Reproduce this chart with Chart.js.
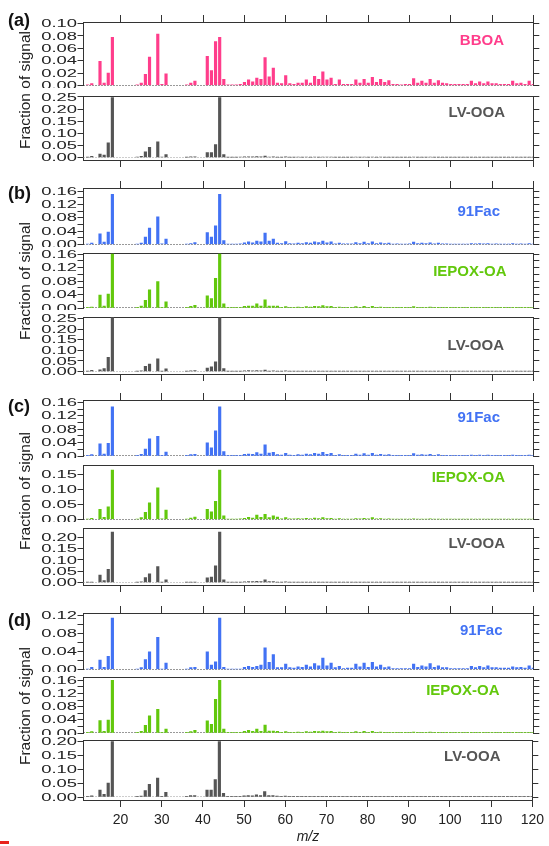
<!DOCTYPE html>
<html>
<head>
<meta charset="utf-8">
<script src="https://cdn.jsdelivr.net/npm/chart.js@4"></script>
<style>
  body { margin: 0; background: #fff; width: 549px; height: 846px; position: relative; overflow: hidden;
         font-family: "Liberation Sans", Arial, Helvetica, sans-serif; }
  canvas { position: absolute; left: 0; }
  .tag { position: absolute; left: 8px; font-weight: bold; font-size: 18px; line-height: 18px; color: #111; transform: translateY(-50%); }
  .ylab { position: absolute; left: 25px; font-size: 15.5px; line-height: 16px; color: #222; white-space: nowrap;
          transform: translate(-50%, -50%) rotate(-90deg); }
  .mark { position: absolute; left: 0; top: 841px; width: 9px; height: 3px; background: #e8231c; }
</style>
</head>
<body>
<script>
// ===== Spectra (fraction of signal per m/z) =====
const mz = [12, 13, 15, 16, 17, 18, 24, 25, 26, 27, 29, 30, 31, 36, 37, 38, 41, 42, 43, 44, 45, 46, 47,
    48, 49, 50, 51, 52, 53, 54, 55, 56, 57,
    58, 59, 60, 61, 62, 63, 64, 65, 66, 67,
    68, 69, 70, 71, 72, 73, 74, 75, 76, 77,
    78, 79, 80, 81, 82, 83, 84, 85, 86, 87,
    88, 89, 90, 91, 92, 93, 94, 95, 96, 97,
    98, 99, 100, 101, 102, 103, 104, 105, 106, 107,
    108, 109, 110, 111, 112, 113, 114, 115, 116, 117,
    118, 119, 120];

const mzTicks = [20, 30, 40, 50, 60, 70, 80, 90, 100, 110, 120];
const groupTags = ['(a)', '(b)', '(c)', '(d)'];

const bboaA = [0.001, 0.003, 0.039, 0.004, 0.020, 0.078, 0.001, 0.004, 0.018, 0.046, 0.083, 0.002, 0.019, 0.001, 0.004, 0.007, 0.047, 0.024, 0.071, 0.078, 0.010, 0.001, 0.001,
    0.001, 0.002, 0.005, 0.009, 0.006, 0.012, 0.010, 0.045, 0.014, 0.028,
    0.004, 0.003, 0.016, 0.003, 0.002, 0.004, 0.004, 0.009, 0.004, 0.015,
    0.010, 0.022, 0.009, 0.012, 0.002, 0.009, 0.002, 0.002, 0.002, 0.009,
    0.004, 0.010, 0.004, 0.013, 0.005, 0.010, 0.005, 0.008, 0.002, 0.002,
    0.001, 0.002, 0.002, 0.011, 0.004, 0.007, 0.004, 0.010, 0.004, 0.008,
    0.004, 0.003, 0.002, 0.002, 0.002, 0.002, 0.002, 0.007, 0.003, 0.006,
    0.003, 0.006, 0.003, 0.003, 0.002, 0.002, 0.002, 0.007, 0.003, 0.004,
    0.002, 0.007, 0.002];

const lvooaA = [0.001, 0.005, 0.014, 0.010, 0.061, 0.247, 0.002, 0.005, 0.023, 0.042, 0.065, 0.002, 0.012, 0.001, 0.003, 0.003, 0.020, 0.020, 0.053, 0.247, 0.012, 0.001, 0.001,
    0.001, 0.002, 0.003, 0.003, 0.003, 0.004, 0.003, 0.006, 0.002, 0.003,
    0.001, 0.001, 0.003, 0.001, 0.001, 0.002, 0.001, 0.002, 0.001, 0.002,
    0.001, 0.002, 0.002, 0.002, 0.001, 0.001, 0.001, 0.001, 0.001, 0.002,
    0.001, 0.002, 0.001, 0.002, 0.001, 0.002, 0.001, 0.001, 0.001, 0.001,
    0.001, 0.001, 0.001, 0.002, 0.001, 0.001, 0.001, 0.002, 0.001, 0.001,
    0.001, 0.001, 0.001, 0.001, 0.001, 0.001, 0.001, 0.001, 0.001, 0.001,
    0.001, 0.001, 0.001, 0.001, 0.001, 0.001, 0.001, 0.001, 0.001, 0.001,
    0.001, 0.001, 0.001];

const fac91B = [0.001, 0.004, 0.032, 0.007, 0.037, 0.150, 0.001, 0.004, 0.022, 0.049, 0.083, 0.002, 0.016, 0.001, 0.003, 0.006, 0.036, 0.022, 0.056, 0.150, 0.012, 0.001, 0.001,
    0.001, 0.002, 0.005, 0.008, 0.005, 0.010, 0.008, 0.034, 0.010, 0.016,
    0.004, 0.003, 0.009, 0.003, 0.002, 0.004, 0.003, 0.006, 0.004, 0.008,
    0.006, 0.010, 0.005, 0.008, 0.002, 0.004, 0.002, 0.002, 0.002, 0.006,
    0.003, 0.007, 0.003, 0.008, 0.003, 0.005, 0.003, 0.004, 0.001, 0.002,
    0.001, 0.001, 0.002, 0.007, 0.003, 0.004, 0.003, 0.005, 0.002, 0.004,
    0.002, 0.002, 0.001, 0.001, 0.001, 0.001, 0.001, 0.003, 0.002, 0.003,
    0.002, 0.003, 0.001, 0.002, 0.001, 0.001, 0.001, 0.003, 0.001, 0.002,
    0.001, 0.003, 0.001];

const iepoxB = [0.002, 0.003, 0.038, 0.006, 0.041, 0.160, 0.001, 0.006, 0.023, 0.054, 0.078, 0.002, 0.018, 0.001, 0.005, 0.008, 0.036, 0.028, 0.088, 0.160, 0.012, 0.001, 0.001,
    0.001, 0.002, 0.005, 0.006, 0.006, 0.012, 0.006, 0.024, 0.006, 0.006,
    0.006, 0.002, 0.004, 0.002, 0.002, 0.003, 0.002, 0.004, 0.003, 0.005,
    0.004, 0.007, 0.004, 0.005, 0.001, 0.003, 0.001, 0.001, 0.001, 0.004,
    0.002, 0.005, 0.002, 0.005, 0.002, 0.003, 0.002, 0.002, 0.001, 0.001,
    0.001, 0.001, 0.001, 0.004, 0.002, 0.002, 0.002, 0.003, 0.001, 0.002,
    0.001, 0.001, 0.001, 0.001, 0.001, 0.001, 0.001, 0.002, 0.001, 0.002,
    0.001, 0.002, 0.001, 0.001, 0.001, 0.001, 0.001, 0.002, 0.001, 0.001,
    0.001, 0.002, 0.001];

const lvooaB = [0.001, 0.005, 0.008, 0.014, 0.067, 0.255, 0.001, 0.003, 0.025, 0.035, 0.060, 0.002, 0.013, 0.001, 0.003, 0.004, 0.016, 0.022, 0.046, 0.255, 0.014, 0.001, 0.001,
    0.001, 0.002, 0.003, 0.004, 0.003, 0.004, 0.003, 0.007, 0.002, 0.003,
    0.001, 0.001, 0.003, 0.001, 0.001, 0.002, 0.001, 0.002, 0.001, 0.002,
    0.001, 0.002, 0.002, 0.002, 0.001, 0.001, 0.001, 0.001, 0.001, 0.002,
    0.001, 0.002, 0.001, 0.002, 0.001, 0.002, 0.001, 0.001, 0.001, 0.001,
    0.001, 0.001, 0.001, 0.002, 0.001, 0.001, 0.001, 0.002, 0.001, 0.001,
    0.001, 0.001, 0.001, 0.001, 0.001, 0.001, 0.001, 0.001, 0.001, 0.001,
    0.001, 0.001, 0.001, 0.001, 0.001, 0.001, 0.001, 0.001, 0.001, 0.001,
    0.001, 0.001, 0.001];

const fac91C = [0.001, 0.004, 0.036, 0.006, 0.038, 0.147, 0.001, 0.005, 0.021, 0.051, 0.059, 0.002, 0.012, 0.001, 0.004, 0.005, 0.039, 0.024, 0.075, 0.147, 0.013, 0.001, 0.001,
    0.001, 0.002, 0.005, 0.006, 0.005, 0.010, 0.006, 0.033, 0.009, 0.011,
    0.004, 0.003, 0.008, 0.003, 0.002, 0.004, 0.003, 0.006, 0.004, 0.008,
    0.006, 0.011, 0.005, 0.008, 0.002, 0.004, 0.002, 0.002, 0.002, 0.006,
    0.003, 0.007, 0.003, 0.008, 0.003, 0.005, 0.003, 0.004, 0.001, 0.002,
    0.001, 0.001, 0.002, 0.007, 0.003, 0.004, 0.003, 0.005, 0.002, 0.004,
    0.002, 0.002, 0.001, 0.001, 0.001, 0.001, 0.001, 0.003, 0.002, 0.003,
    0.002, 0.003, 0.001, 0.002, 0.001, 0.001, 0.001, 0.003, 0.001, 0.002,
    0.001, 0.003, 0.001];

const iepoxC = [0.001, 0.004, 0.034, 0.007, 0.042, 0.163, 0.001, 0.006, 0.024, 0.055, 0.105, 0.002, 0.031, 0.001, 0.005, 0.008, 0.034, 0.025, 0.060, 0.163, 0.012, 0.001, 0.001,
    0.001, 0.002, 0.004, 0.007, 0.005, 0.015, 0.007, 0.017, 0.006, 0.012,
    0.008, 0.002, 0.006, 0.002, 0.002, 0.003, 0.002, 0.004, 0.002, 0.005,
    0.003, 0.006, 0.003, 0.004, 0.001, 0.003, 0.001, 0.001, 0.001, 0.003,
    0.002, 0.004, 0.002, 0.006, 0.002, 0.003, 0.001, 0.002, 0.001, 0.001,
    0.001, 0.001, 0.001, 0.002, 0.001, 0.001, 0.001, 0.002, 0.001, 0.001,
    0.001, 0.001, 0.001, 0.001, 0.001, 0.001, 0.001, 0.001, 0.001, 0.001,
    0.001, 0.001, 0.001, 0.001, 0.001, 0.001, 0.001, 0.001, 0.001, 0.001,
    0.001, 0.001, 0.001];

const lvooaC = [0.001, 0.002, 0.033, 0.009, 0.058, 0.224, 0.001, 0.003, 0.022, 0.039, 0.071, 0.002, 0.012, 0.001, 0.002, 0.002, 0.021, 0.024, 0.074, 0.224, 0.012, 0.001, 0.001,
    0.001, 0.001, 0.003, 0.004, 0.004, 0.005, 0.004, 0.012, 0.004, 0.004,
    0.001, 0.001, 0.003, 0.001, 0.001, 0.002, 0.001, 0.002, 0.001, 0.002,
    0.001, 0.002, 0.002, 0.002, 0.001, 0.001, 0.001, 0.001, 0.001, 0.002,
    0.001, 0.002, 0.001, 0.002, 0.001, 0.002, 0.001, 0.001, 0.001, 0.001,
    0.001, 0.001, 0.001, 0.002, 0.001, 0.001, 0.001, 0.002, 0.001, 0.001,
    0.001, 0.001, 0.001, 0.001, 0.001, 0.001, 0.001, 0.001, 0.001, 0.001,
    0.001, 0.001, 0.001, 0.001, 0.001, 0.001, 0.001, 0.001, 0.001, 0.001,
    0.001, 0.001, 0.001];

const fac91D = [0.001, 0.005, 0.021, 0.005, 0.029, 0.114, 0.001, 0.004, 0.022, 0.039, 0.071, 0.001, 0.014, 0.001, 0.004, 0.005, 0.039, 0.010, 0.017, 0.114, 0.005, 0.001, 0.001,
    0.001, 0.001, 0.005, 0.007, 0.005, 0.007, 0.010, 0.048, 0.016, 0.033,
    0.004, 0.004, 0.012, 0.004, 0.003, 0.006, 0.005, 0.010, 0.006, 0.013,
    0.008, 0.025, 0.008, 0.014, 0.004, 0.007, 0.002, 0.003, 0.003, 0.012,
    0.006, 0.014, 0.005, 0.016, 0.006, 0.010, 0.004, 0.006, 0.002, 0.002,
    0.002, 0.002, 0.002, 0.012, 0.005, 0.008, 0.006, 0.013, 0.005, 0.008,
    0.004, 0.004, 0.002, 0.002, 0.002, 0.002, 0.002, 0.007, 0.004, 0.007,
    0.004, 0.008, 0.004, 0.004, 0.003, 0.003, 0.003, 0.006, 0.004, 0.005,
    0.003, 0.008, 0.003];

const iepoxD = [0.001, 0.004, 0.038, 0.005, 0.039, 0.160, 0.001, 0.005, 0.023, 0.052, 0.072, 0.002, 0.012, 0.001, 0.004, 0.008, 0.037, 0.026, 0.102, 0.160, 0.012, 0.001, 0.001,
    0.001, 0.002, 0.005, 0.008, 0.005, 0.012, 0.005, 0.024, 0.006, 0.006,
    0.005, 0.002, 0.004, 0.002, 0.002, 0.003, 0.002, 0.004, 0.003, 0.005,
    0.004, 0.006, 0.004, 0.005, 0.001, 0.003, 0.001, 0.001, 0.001, 0.004,
    0.002, 0.005, 0.002, 0.005, 0.002, 0.003, 0.002, 0.002, 0.001, 0.001,
    0.001, 0.001, 0.001, 0.003, 0.002, 0.002, 0.002, 0.003, 0.001, 0.002,
    0.001, 0.001, 0.001, 0.001, 0.001, 0.001, 0.001, 0.002, 0.001, 0.002,
    0.001, 0.002, 0.001, 0.001, 0.001, 0.001, 0.001, 0.002, 0.001, 0.001,
    0.001, 0.002, 0.001];

const lvooaD = [0.001, 0.004, 0.025, 0.010, 0.050, 0.200, 0.001, 0.003, 0.023, 0.046, 0.068, 0.001, 0.017, 0.001, 0.005, 0.005, 0.025, 0.025, 0.063, 0.200, 0.013, 0.001, 0.001,
    0.001, 0.001, 0.004, 0.005, 0.004, 0.008, 0.005, 0.020, 0.005, 0.005,
    0.003, 0.001, 0.003, 0.001, 0.001, 0.002, 0.001, 0.002, 0.001, 0.002,
    0.001, 0.002, 0.002, 0.002, 0.001, 0.001, 0.001, 0.001, 0.001, 0.002,
    0.001, 0.002, 0.001, 0.002, 0.001, 0.002, 0.001, 0.001, 0.001, 0.001,
    0.001, 0.001, 0.001, 0.002, 0.001, 0.001, 0.001, 0.002, 0.001, 0.001,
    0.001, 0.001, 0.001, 0.001, 0.001, 0.001, 0.001, 0.001, 0.001, 0.001,
    0.001, 0.001, 0.001, 0.001, 0.001, 0.001, 0.001, 0.001, 0.001, 0.001,
    0.001, 0.001, 0.001];

// ===== Colours / fonts =====
const PINK = '#ff3d8b';
const BLUE = '#4272f4';
const GREEN = '#62c80c';
const GREY = '#555555';
const AXIS = '#333333';
const FONT = '"Liberation Sans", Arial, Helvetica, sans-serif';
const W = 549;
const PLOT_LEFT = 83.5;
const PLOT_RIGHT = 533.3;

Chart.defaults.font.family = FONT;

// ===== Panel layout (page pixels) =====
// top = frame line, base = zero line, axis = bottom axis line (last panel of a group)
const panels = [
    { group: 0, name: 'BBOA', values: bboaA, color: PINK, top: 22, base: 85.5, max: 0.1026, step: 0.02, labelStep: 0.02, first: true, nameX: 504, nameY: 40.5 },
    { group: 0, name: 'LV-OOA', values: lvooaA, color: GREY, top: 96, base: 157.5, axis: 160, xh: 10, max: 0.254, step: 0.05, labelStep: 0.05, nameX: 505, nameY: 113 },

    { group: 1, name: '91Fac', values: fac91B, color: BLUE, top: 188, base: 244.5, max: 0.169, step: 0.02, labelStep: 0.04, first: true, nameX: 500, nameY: 212 },
    { group: 1, name: 'IEPOX-OA', values: iepoxB, color: GREEN, top: 253, base: 308, max: 0.163, step: 0.02, labelStep: 0.04, nameX: 506.5, nameY: 271.5 },
    { group: 1, name: 'LV-OOA', values: lvooaB, color: GREY, top: 317, base: 371.5, axis: 374, xh: 10, max: 0.258, step: 0.05, labelStep: 0.05, nameX: 504, nameY: 345.5 },

    { group: 2, name: '91Fac', values: fac91C, color: BLUE, top: 400, base: 456, max: 0.167, step: 0.02, labelStep: 0.04, first: true, nameX: 500, nameY: 418 },
    { group: 2, name: 'IEPOX-OA', values: iepoxC, color: GREEN, top: 465, base: 519.5, max: 0.18, step: 0.05, labelStep: 0.05, nameX: 505, nameY: 478 },
    { group: 2, name: 'LV-OOA', values: lvooaC, color: GREY, top: 528, base: 582.5, axis: 585, xh: 10, max: 0.242, step: 0.05, labelStep: 0.05, nameX: 505, nameY: 543.5 },

    { group: 3, name: '91Fac', values: fac91D, color: BLUE, top: 613, base: 669.5, max: 0.125, step: 0.02, labelStep: 0.04, first: true, nameX: 502.5, nameY: 630.5 },
    { group: 3, name: 'IEPOX-OA', values: iepoxD, color: GREEN, top: 677, base: 733, max: 0.170, step: 0.02, labelStep: 0.04, nameX: 499.5, nameY: 691 },
    { group: 3, name: 'LV-OOA', values: lvooaD, color: GREY, top: 740, base: 797, axis: 800, xh: 46, max: 0.206, step: 0.05, labelStep: 0.05, nameX: 500.5, nameY: 757 }
];

const groupTagY = [20, 192.5, 406, 619.5];
const groupMidY = [89.5, 281, 491, 706];

// ===== Zero line, stretched y labels, series name =====
const spectrumDecor = {
    id: 'spectrumDecor',
    beforeDatasetsDraw(chart, args, opts) {
        const { ctx, chartArea } = chart;
        const y0 = Math.round(chart.scales.y.getPixelForValue(0)) - 0.5;
        ctx.save();
        ctx.strokeStyle = opts.zeroColor;
        ctx.lineWidth = 1;
        ctx.setLineDash([1, 2]);
        ctx.beginPath();
        ctx.moveTo(chartArea.left, y0);
        ctx.lineTo(chartArea.right, y0);
        ctx.stroke();
        ctx.restore();
    },
    afterDraw(chart, args, opts) {
        const { ctx, chartArea } = chart;
        const yScale = chart.scales.y;
        ctx.save();
        ctx.fillStyle = '#222';
        ctx.font = '11.5px ' + FONT;
        ctx.textAlign = 'right';
        ctx.textBaseline = 'middle';
        yScale.ticks.forEach(t => {
            const k = t.value / opts.labelStep;
            if (t.value < -1e-9 || Math.abs(k - Math.round(k)) > 1e-6) return;
            const py = yScale.getPixelForValue(t.value);
            ctx.save();
            ctx.translate(chartArea.left - 6.5, py + 0.5);
            ctx.scale(1.6, 1);
            ctx.fillText(t.value.toFixed(2), 0, 0);
            ctx.restore();
        });

        ctx.font = 'bold 15px ' + FONT;
        ctx.fillStyle = opts.color;
        ctx.textBaseline = 'middle';
        ctx.fillText(opts.name, opts.nameX, opts.nameY - opts.canvasTop);
        ctx.restore();
    }
};

// ===== Build one chart per panel =====
panels.forEach(p => {
    const last = p.axis !== undefined;
    const canvasTop = p.top - 10;
    const canvasBottom = last ? p.axis + p.xh : Math.ceil(p.base) + 2;
    const yMin = last ? -(p.axis - p.base) / (p.base - p.top) * p.max : 0;
    const showLabels = p.group === 3 && last;

    const canvas = document.createElement('canvas');
    canvas.width = W;
    canvas.height = canvasBottom - canvasTop;
    canvas.style.top = canvasTop + 'px';
    document.body.appendChild(canvas);

    const setMzTicks = s => { s.ticks = mzTicks.map(v => ({ value: v })); };

    new Chart(canvas, {
        type: 'bar',
        data: {
            datasets: [{
                label: p.name,
                data: mz.map((m, i) => ({ x: m, y: p.values[i] })),
                backgroundColor: p.color,
                borderWidth: 0,
                barThickness: 2.5
            }]
        },
        options: {
            responsive: false,
            animation: false,
            events: [],
            layout: { padding: { left: 0, right: 0, top: 0, bottom: last ? 0 : canvasBottom - p.base } },
            plugins: {
                legend: { display: false },
                tooltip: { enabled: false },
                spectrumDecor: {
                    labelStep: p.labelStep,
                    zeroColor: p.color === GREY ? '#9a9a9a' : '#333',
                    color: p.color,
                    name: p.name,
                    nameX: p.nameX,
                    nameY: p.nameY,
                    canvasTop: canvasTop
                }
            },
            scales: {
                x: {
                    type: 'linear',
                    min: 11,
                    max: 120,
                    offset: false,
                    display: last,
                    afterBuildTicks: setMzTicks,
                    afterFit: s => { s.height = p.xh || 0; },
                    grid: { offset: false, drawOnChartArea: false, drawTicks: true, tickLength: 7, color: AXIS, tickColor: AXIS },
                    border: { display: true, color: AXIS },
                    ticks: { display: showLabels, autoSkip: false, maxRotation: 0, padding: 5, color: '#222', font: { size: 14 } },
                    title: { display: showLabels, text: 'm/z', color: '#222', padding: 0, font: { size: 14, style: 'italic' } }
                },
                xt: {
                    type: 'linear',
                    position: 'top',
                    min: 11,
                    max: 120,
                    offset: false,
                    afterBuildTicks: setMzTicks,
                    afterFit: s => { s.height = 10; },
                    grid: { offset: false, drawOnChartArea: false, drawTicks: !!p.first, tickLength: 7, color: AXIS, tickColor: AXIS },
                    border: { display: true, color: AXIS },
                    ticks: { display: false }
                },
                y: {
                    type: 'linear',
                    position: 'left',
                    min: yMin,
                    max: p.max,
                    afterFit: s => { s.width = PLOT_LEFT; },
                    grid: { drawOnChartArea: false, tickLength: 6, color: AXIS, tickColor: AXIS },
                    border: { display: true, color: AXIS },
                    ticks: { display: false, stepSize: p.step, includeBounds: false }
                },
                yr: {
                    type: 'linear',
                    position: 'right',
                    min: yMin,
                    max: p.max,
                    afterFit: s => { s.width = W - PLOT_RIGHT; },
                    grid: { drawOnChartArea: false, tickLength: 6, color: AXIS, tickColor: AXIS },
                    border: { display: true, color: AXIS },
                    ticks: { display: false, stepSize: p.step, includeBounds: false }
                }
            }
        },
        plugins: [spectrumDecor]
    });
});

// ===== Group tags and axis captions =====
groupTags.forEach((tag, i) => {
    const t = document.createElement('div');
    t.className = 'tag';
    t.style.top = groupTagY[i] + 'px';
    t.textContent = tag;
    document.body.appendChild(t);

    const c = document.createElement('div');
    c.className = 'ylab';
    c.style.top = groupMidY[i] + 'px';
    c.textContent = 'Fraction of signal';
    document.body.appendChild(c);
});

const mark = document.createElement('div');
mark.className = 'mark';
document.body.appendChild(mark);
</script>
</body>
</html>
